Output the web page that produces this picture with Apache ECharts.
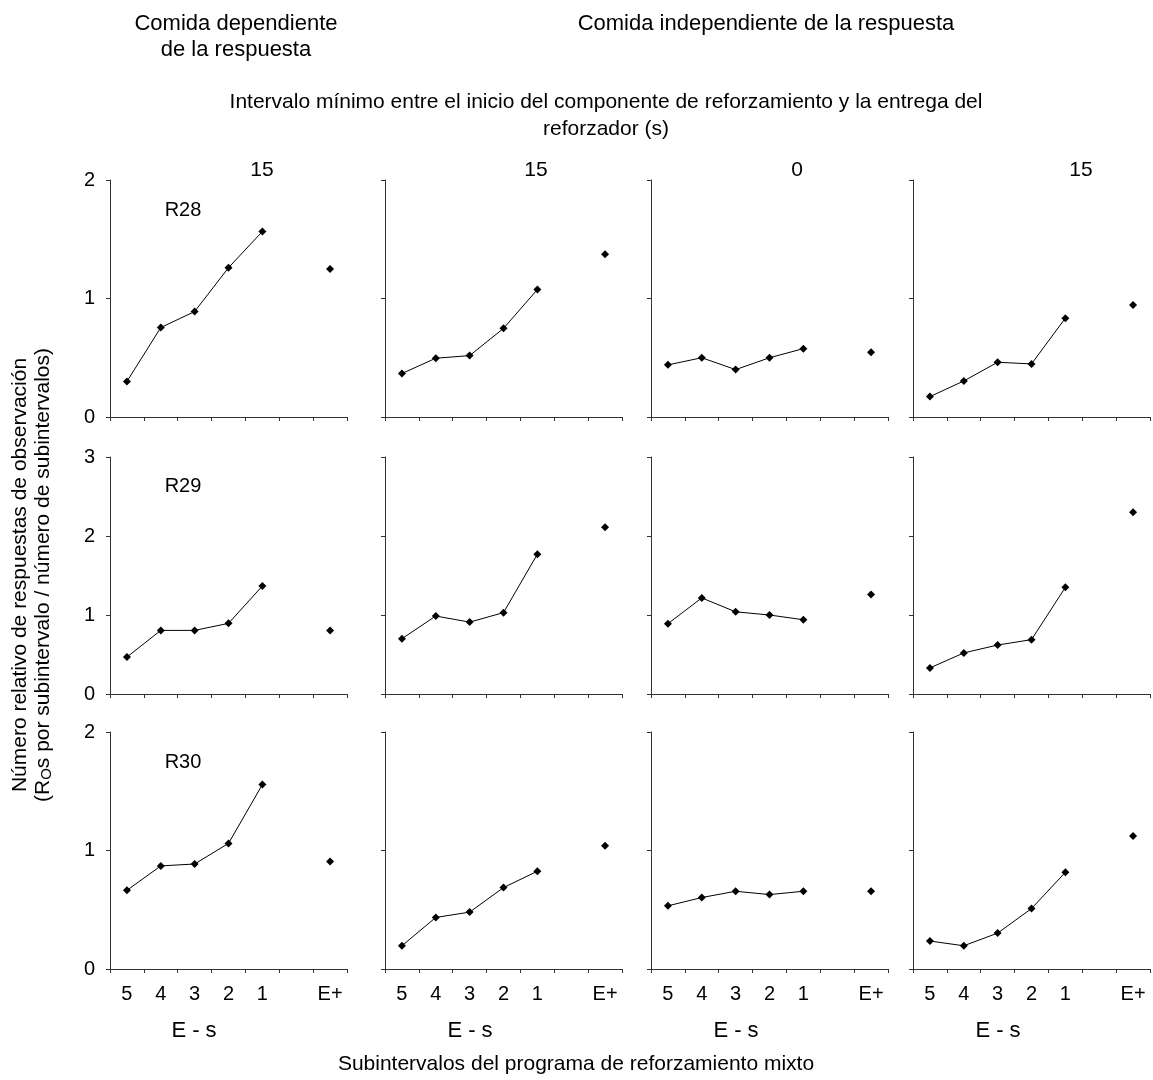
<!DOCTYPE html>
<html>
<head>
<meta charset="utf-8">
<script src="https://cdn.jsdelivr.net/npm/echarts@6/dist/echarts.min.js"></script>
<style>
html,body{margin:0;padding:0;background:#fff;}
#chart{width:1153px;height:1080px;}
</style>
</head>
<body>
<div id="chart"></div>
<script>
// ---- data ----
var categories = ['5', '4', '3', '2', '1', '', 'E+'];
var subjects = ['R28', 'R29', 'R30'];
var columnHeaders = ['15', '15', '0', '15'];
var yMaxByRow = [2, 3, 2];

// values for subintervals 5,4,3,2,1 ; then E+
var r28_col1 = [0.30, 0.755, 0.89, 1.26, 1.565];   var r28_col1_E = 1.25;
var r28_col2 = [0.367, 0.496, 0.518, 0.748, 1.075]; var r28_col2_E = 1.373;
var r28_col3 = [0.44, 0.50, 0.40, 0.50, 0.577];    var r28_col3_E = 0.546;
var r28_col4 = [0.172, 0.304, 0.462, 0.448, 0.834]; var r28_col4_E = 0.946;

var r29_col1 = [0.468, 0.805, 0.805, 0.894, 1.367]; var r29_col1_E = 0.805;
var r29_col2 = [0.70, 0.987, 0.91, 1.03, 1.77];    var r29_col2_E = 2.11;
var r29_col3 = [0.89, 1.216, 1.04, 1.0, 0.94];     var r29_col3_E = 1.26;
var r29_col4 = [0.33, 0.52, 0.62, 0.688, 1.35];    var r29_col4_E = 2.30;

var r30_col1 = [0.664, 0.87, 0.886, 1.06, 1.556];  var r30_col1_E = 0.908;
var r30_col2 = [0.196, 0.435, 0.48, 0.687, 0.825]; var r30_col2_E = 1.04;
var r30_col3 = [0.533, 0.603, 0.656, 0.628, 0.656]; var r30_col3_E = 0.656;
var r30_col4 = [0.236, 0.196, 0.303, 0.51, 0.816]; var r30_col4_E = 1.122;

var lines = [
  [r28_col1, r28_col2, r28_col3, r28_col4],
  [r29_col1, r29_col2, r29_col3, r29_col4],
  [r30_col1, r30_col2, r30_col3, r30_col4]
];
var eplus = [
  [r28_col1_E, r28_col2_E, r28_col3_E, r28_col4_E],
  [r29_col1_E, r29_col2_E, r29_col3_E, r29_col4_E],
  [r30_col1_E, r30_col2_E, r30_col3_E, r30_col4_E]
];

// ---- layout ----
var colLeft = [110, 385, 651, 913];
var rowTop = [180, 457, 732];
var panelW = 237, panelH = 238;
var FONT = '"Liberation Sans", Arial, sans-serif';
var axisColor = '#333';

var grids = [], xAxes = [], yAxes = [], series = [];
var idx = 0;
for (var r = 0; r < 3; r++) {
  for (var c = 0; c < 4; c++) {
    grids.push({left: colLeft[c], top: rowTop[r], width: panelW, height: panelH - 1});
    xAxes.push({
      type: 'category', gridIndex: idx, data: categories, boundaryGap: true,
      axisLine: {show: true, lineStyle: {color: axisColor, width: 1}},
      axisTick: {show: true, length: 4, inside: false, lineStyle: {color: axisColor}},
      axisLabel: {show: r === 2, color: '#000', fontSize: 20, fontFamily: FONT, margin: 15, interval: 0},
      splitLine: {show: false}
    });
    yAxes.push({
      type: 'value', gridIndex: idx, min: 0, max: yMaxByRow[r], interval: 1,
      axisLine: {show: true, lineStyle: {color: axisColor, width: 1}},
      axisTick: {show: true, length: 4, lineStyle: {color: axisColor}},
      axisLabel: {show: c === 0, color: '#000', fontSize: 20, fontFamily: FONT, margin: 15},
      splitLine: {show: false}
    });
    var lineData = lines[r][c].slice();
    lineData.push(null, null);
    var eData = [null, null, null, null, null, null, eplus[r][c]];
    series.push({
      type: 'line', xAxisIndex: idx, yAxisIndex: idx, data: lineData,
      symbol: 'diamond', symbolSize: 8, showSymbol: true, connectNulls: false,
      lineStyle: {color: '#000', width: 1}, itemStyle: {color: '#000'},
      silent: true, animation: false
    });
    series.push({
      type: 'line', xAxisIndex: idx, yAxisIndex: idx, data: eData,
      symbol: 'diamond', symbolSize: 8, showSymbol: true,
      lineStyle: {width: 0}, itemStyle: {color: '#000'},
      silent: true, animation: false
    });
    idx++;
  }
}

function txt(x, y, s, size) {
  return {type: 'text', x: x, y: y, style: {text: s, fill: '#000', font: (size || 20) + 'px ' + FONT, textAlign: 'center', textVerticalAlign: 'middle'}};
}

var graphics = [
  txt(236, 24, 'Comida dependiente', 22),
  txt(236, 50, 'de la respuesta', 22),
  txt(766, 24, 'Comida independiente de la respuesta', 22),
  txt(606, 102, 'Intervalo mínimo entre el inicio del componente de reforzamiento y la entrega del', 21),
  txt(606, 129, 'reforzador (s)', 21),
  txt(576, 1064, 'Subintervalos del programa de reforzamiento mixto', 21)
];
var headerX = [262, 536, 797, 1081];
for (var c2 = 0; c2 < 4; c2++) graphics.push(txt(headerX[c2], 170, columnHeaders[c2], 21));
var subjY = [210, 486, 762];
for (var r2 = 0; r2 < 3; r2++) graphics.push(txt(183, subjY[r2], subjects[r2], 20));
var esX = [194, 470, 736, 998];
for (var c3 = 0; c3 < 4; c3++) graphics.push(txt(esX[c3], 1031, 'E - s', 22));

// y axis title (rotated)
graphics.push({
  type: 'text', x: 20, y: 575, rotation: Math.PI / 2,
  style: {text: 'Número relativo de respuestas de observación', fill: '#000', font: '21px ' + FONT, textAlign: 'center', textVerticalAlign: 'middle'}
});
graphics.push({
  type: 'text', x: 43, y: 575, rotation: Math.PI / 2,
  style: {
    text: '{a|(R}{s|O}{a|s por subintervalo / número de subintervalos)}',
    fill: '#000', textAlign: 'center', textVerticalAlign: 'middle',
    rich: {
      a: {fontSize: 21, fontFamily: FONT, fill: '#000', verticalAlign: 'middle'},
      s: {fontSize: 15, fontFamily: FONT, fill: '#000', verticalAlign: 'bottom', padding: [7, 0, 0, 0]}
    }
  }
});

var chart = echarts.init(document.getElementById('chart'), null, {renderer: 'canvas'});
chart.setOption({
  backgroundColor: '#fff',
  animation: false,
  grid: grids,
  xAxis: xAxes,
  yAxis: yAxes,
  series: series,
  graphic: graphics
});
</script>
</body>
</html>
